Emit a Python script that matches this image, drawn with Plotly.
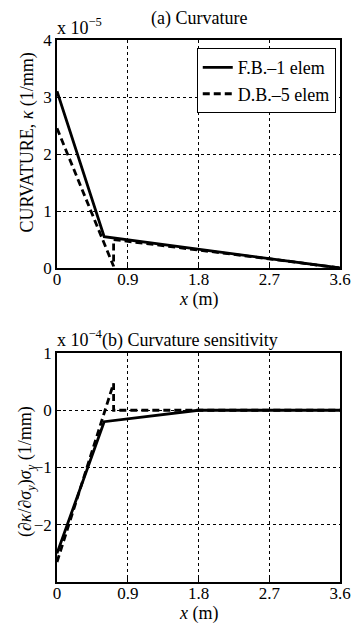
import plotly.graph_objects as go

# Data (top: curvature, units 1e-5 1/mm; bottom: sensitivity, units 1e-4 1/mm)
x_fb_a = [0, 0.6, 3.6]
y_fb_a = [3.1, 0.55, 0.0]
x_db_a = [0, 0.72, 0.72, 1.44, 2.16, 2.88, 3.6]
y_db_a = [2.45, 0.03, 0.5, 0.38, 0.26, 0.13, 0.0]

x_fb_b = [0, 0.6, 1.8, 3.6]
y_fb_b = [-2.5, -0.2, 0.0, 0.0]
x_db_b = [0, 0.72, 0.72, 1.44, 2.16, 2.88, 3.6]
y_db_b = [-2.65, 0.47, 0.0, 0.0, 0.0, 0.0, 0.0]

x_ticks = [0, 0.9, 1.8, 2.7, 3.6]
x_ticklabels = ["0", "0.9", "1.8", "2.7", "3.6"]
ya_ticks = [0, 1, 2, 3, 4]
yb_ticks = [-2, -1, 0, 1]

FONT = "Liberation Serif, Times New Roman, serif"

fig = go.Figure()
fig.add_trace(go.Scatter(x=x_fb_a, y=y_fb_a, mode="lines", name="F.B.–1 elem",
                         line=dict(color="black", width=2.8), xaxis="x", yaxis="y"))
fig.add_trace(go.Scatter(x=x_db_a, y=y_db_a, mode="lines", name="D.B.–5 elem",
                         line=dict(color="black", width=2.8, dash="7px,4px"), xaxis="x", yaxis="y"))
fig.add_trace(go.Scatter(x=x_fb_b, y=y_fb_b, mode="lines", showlegend=False,
                         line=dict(color="black", width=2.8), xaxis="x2", yaxis="y2"))
fig.add_trace(go.Scatter(x=x_db_b, y=y_db_b, mode="lines", showlegend=False,
                         line=dict(color="black", width=2.8, dash="7px,4px"), xaxis="x2", yaxis="y2"))

axis_common = dict(showline=True, linecolor="black", linewidth=1.5, mirror=True,
                   ticks="inside", ticklen=4, tickcolor="black",
                   showgrid=True, gridcolor="black", gridwidth=1, griddash="dot",
                   zeroline=False, tickfont=dict(family=FONT, size=17, color="black"))
xaxis_extra = dict(ticklabelstandoff=-5)

fig.update_layout(
    width=355, height=617,
    margin=dict(l=49, r=14, t=32, b=43),
    paper_bgcolor="white", plot_bgcolor="white",
    font=dict(family=FONT, color="black", size=18),
    xaxis=dict(domain=[0, 1], anchor="y", range=[0, 3.6], tickvals=x_ticks, ticktext=x_ticklabels,
               **axis_common, **xaxis_extra),
    yaxis=dict(domain=[0.5793, 1], anchor="x", range=[0, 4], tickvals=ya_ticks, **axis_common),
    xaxis2=dict(domain=[0, 1], anchor="y2", range=[0, 3.6], tickvals=x_ticks, ticktext=x_ticklabels,
                **axis_common, **xaxis_extra),
    yaxis2=dict(domain=[0, 0.4225], anchor="x2", range=[-3, 1], tickvals=yb_ticks, **axis_common),
    legend=dict(x=0.985, y=0.985, xanchor="right", yanchor="top", bgcolor="white",
                bordercolor="black", borderwidth=1, font=dict(family=FONT, size=18),
                tracegroupgap=0),
    annotations=[
        dict(text="(a) Curvature", x=0.5, y=1.0, xref="paper", yref="paper", yshift=9,
             xanchor="center", yanchor="bottom", showarrow=False, font=dict(size=18)),
        dict(text="x 10<sup>−5</sup>", x=0, y=1.0, xref="paper", yref="paper", xshift=-2, yshift=0,
             xanchor="left", yanchor="bottom", showarrow=False, font=dict(size=18)),
        dict(text="x 10<sup>−4</sup>(b) Curvature sensitivity", x=0, y=0.4225, xref="paper", yref="paper",
             xshift=-2, yshift=0, xanchor="left", yanchor="bottom", showarrow=False, font=dict(size=18)),
        dict(text="<i>x</i> (m)", x=0.5, y=0, xref="x domain", yref="y domain", yshift=-31,
             xanchor="center", yanchor="middle", showarrow=False, font=dict(size=18)),
        dict(text="<i>x</i> (m)", x=0.5, y=0, xref="x2 domain", yref="y2 domain", yshift=-31,
             xanchor="center", yanchor="middle", showarrow=False, font=dict(size=18)),
        dict(text="CURVATURE, <i>κ</i> (1/mm)", x=0, y=0.55, xref="paper", yref="y domain", xshift=-29,
             xanchor="center", yanchor="middle", textangle=-90, showarrow=False, font=dict(size=18)),
        dict(text="(∂<i>κ</i>/∂<i>σ</i><sub><i>y</i></sub>)<i>σ</i><sub><i>y</i></sub> (1/mm)",
             x=0, y=0.48, xref="paper", yref="y2 domain", xshift=-31,
             xanchor="center", yanchor="middle", textangle=-90, showarrow=False, font=dict(size=18)),
    ],
)

fig.write_html("out.html")
